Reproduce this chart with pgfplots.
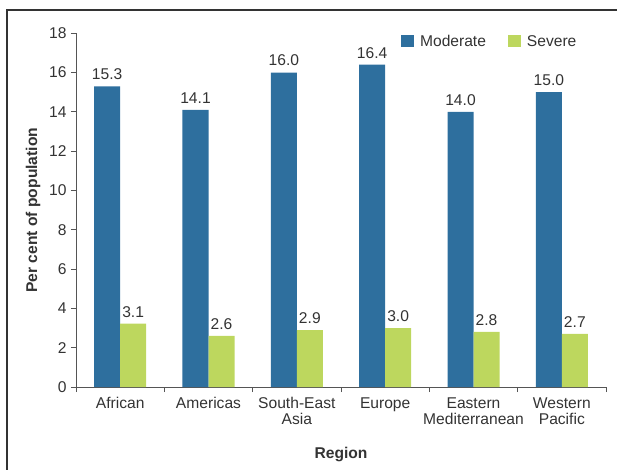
\documentclass[border=0pt]{standalone}
\usepackage{fontspec}
\setmainfont{Liberation Sans}
\usepackage{pgfplots}
\pgfplotsset{compat=1.18}
\definecolor{moderate}{HTML}{2E6F9E}
\definecolor{severe}{HTML}{BDD75E}
\definecolor{ink}{HTML}{333333}
\definecolor{axisgray}{HTML}{555555}

\begin{document}
\begin{tikzpicture}[font=\fontsize{15.6bp}{16bp}\selectfont]
\useasboundingbox (-76bp,-83bp) rectangle (541bp,387bp);
\draw[ink, line width=1.4bp] (-69bp,-100bp) rectangle (560bp,377bp);
\begin{axis}[
    at={(0,0)}, anchor=south west,
    scale only axis,
    width=530bp, height=353.7bp,
    ybar=0pt, bar width=26bp,
    xmin=-0.5, xmax=5.5,
    ymin=0, ymax=18,
    ytick={0,2,...,18},
    xtick={0,...,5},
    xticklabels={African,Americas,{South-East\\Asia},Europe,{Eastern\\Mediterranean},{Western\\Pacific}},
    minor xtick={-0.5,0.5,...,5.5},
    axis x line*=bottom, axis y line*=left,
    axis line style={axisgray, line width=0.9bp},
    tick align=outside,
    major tick length=5bp, minor tick length=5bp,
    tick style={axisgray, line width=0.9bp},
    major x tick style={draw=none},
    /pgf/number format/assume math mode=true,
    tick label style={text=ink},
    yticklabel style={xshift=-1bp},
    xticklabel style={align=center, anchor=north, yshift=-2bp},
    xlabel={\bfseries Region},
    ylabel={\bfseries Per cent of population},
    every axis x label/.style={at={(axis description cs:0.5,0)}, yshift=-67bp, anchor=center, text=ink},
    every axis y label/.style={at={(axis description cs:0,0.5)}, xshift=-43bp, rotate=90, anchor=center, text=ink},
    nodes near coords,
    point meta=explicit,
    nodes near coords style={text=ink, anchor=south, yshift=3bp,
        /pgf/number format/.cd, fixed, fixed zerofill, precision=1, assume math mode=true},
    legend columns=2,
    legend style={draw=none, fill=none, at={(axis description cs:0.613,0.977)}, anchor=west,
        inner xsep=0pt, text=ink,
        /tikz/every even column/.append style={column sep=20bp}},
    legend image code/.code={\fill[#1] (0bp,-6bp) rectangle (13bp,6bp); \path (17bp,0bp);},
]
\addplot[fill=moderate, draw=none] coordinates {
    (0,15.3) [15.3] (1,14.1) [14.1] (2,16.0) [16.0] (3,16.4) [16.4] (4,14.0) [14.0] (5,15.0) [15.0]};
\addplot[fill=severe, draw=none] coordinates {
    (0,3.22) [3.1] (1,2.6) [2.6] (2,2.9) [2.9] (3,3.0) [3.0] (4,2.8) [2.8] (5,2.7) [2.7]};
\legend{Moderate,Severe}
\end{axis}
\end{tikzpicture}
\end{document}
